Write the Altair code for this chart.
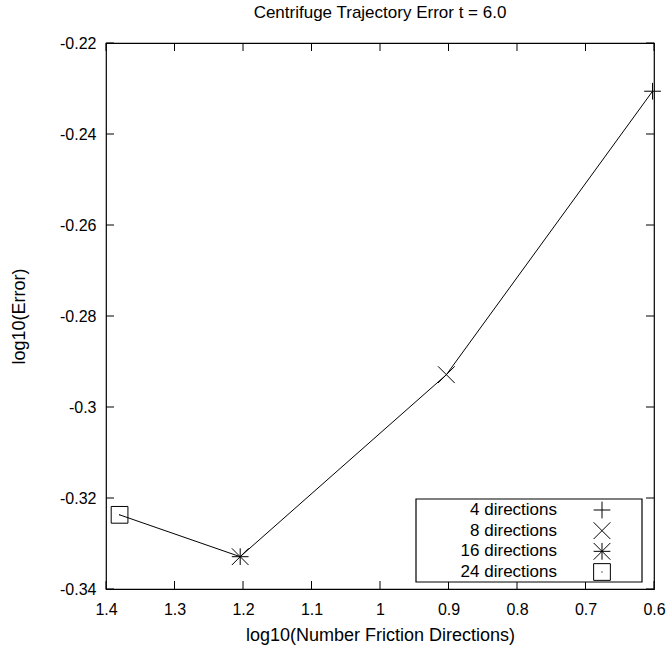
import altair as alt
import pandas as pd

# ---- data ----
directions = [4, 8, 16, 24]
log_dirs = [0.6021, 0.9031, 1.2041, 1.3802]
log_err = [-0.2306, -0.2929, -0.3329, -0.3237]
labels = ["4 directions", "8 directions", "16 directions", "24 directions"]
x_ticks = [1.4, 1.3, 1.2, 1.1, 1.0, 0.9, 0.8, 0.7, 0.6]
y_ticks = [-0.34, -0.32, -0.30, -0.28, -0.26, -0.24, -0.22]

# gnuplot-like point shapes (unit paths)
PLUS = "M-1,0H1M0,-1V1"
CROSS = "M-1,-1L1,1M-1,1L1,-1"
STAR = "M-1,0H1M0,-1V1M-1,-1L1,1M-1,1L1,-1"
SQUARE = "M-1,-1H1V1H-1ZM-0.07,0H0.07"
shapes = [PLUS, CROSS, STAR, SQUARE]

FONT = "Liberation Sans"
W, H = 548, 546
TICK = 8

df = pd.DataFrame({"directions": directions, "logdir": log_dirs,
                   "logerr": log_err, "label": labels})
xt = pd.DataFrame({"logdir": x_ticks})
yt = pd.DataFrame({"logerr": y_ticks})

xscale = alt.Scale(domain=[0.6, 1.4], reverse=True, zero=False, nice=False)
yscale = alt.Scale(domain=[-0.34, -0.22], zero=False, nice=False)

xaxis = alt.Axis(values=x_ticks, labelExpr="'' + datum.value", ticks=False, tickSize=0,
                 domain=False, grid=False, labelFont=FONT, labelFontSize=16,
                 labelColor="black", labelPadding=12, labelFlush=False, labelOverlap=False,
                 title="log10(Number Friction Directions)", titleFont=FONT,
                 titleFontSize=18, titleFontWeight="normal", titleColor="black",
                 titlePadding=9)
yaxis = alt.Axis(values=y_ticks, labelExpr="'' + datum.value", ticks=False, tickSize=0,
                 domain=False, grid=False, labelFont=FONT, labelFontSize=16,
                 labelColor="black", labelPadding=10, labelFlush=False, labelOverlap=False,
                 title="log10(Error)", titleFont=FONT, titleFontSize=18,
                 titleFontWeight="normal", titleColor="black", titlePadding=31)

X = alt.X("logdir:Q", scale=xscale, axis=xaxis)
Y = alt.Y("logerr:Q", scale=yscale, axis=yaxis)

shape_scale = alt.Scale(domain=labels, range=shapes)

# inward ticks on all four sides
xt_bottom = alt.Chart(xt).mark_rule(color="black", strokeWidth=1).encode(
    x=X, y=alt.value(H), y2=alt.value(H - TICK))
xt_top = alt.Chart(xt).mark_rule(color="black", strokeWidth=1).encode(
    x=X, y=alt.value(0), y2=alt.value(TICK))
yt_left = alt.Chart(yt).mark_rule(color="black", strokeWidth=1).encode(
    y=Y, x=alt.value(0), x2=alt.value(TICK))
yt_right = alt.Chart(yt).mark_rule(color="black", strokeWidth=1).encode(
    y=Y, x=alt.value(W), x2=alt.value(W - TICK))

line = alt.Chart(df).mark_line(color="black", strokeWidth=1).encode(
    x=X, y=Y, order="directions:Q")
points = alt.Chart(df).mark_point(filled=False, color="black", strokeWidth=1,
                                  size=280, opacity=1).encode(
    x=X, y=Y,
    shape=alt.Shape("label:N", scale=shape_scale, legend=None))

main = alt.layer(xt_bottom, xt_top, yt_left, yt_right, line, points)

# hand-drawn gnuplot-style key (text left, symbol right)
leg_y = alt.Y("label:N", axis=None,
              scale=alt.Scale(type="point", domain=labels, range=[467, 529], padding=0))
leg_box = alt.Chart(pd.DataFrame({"k": [0]})).mark_rect(
    fill="white", stroke="black", strokeWidth=1.2).encode(
    x=alt.value(310), x2=alt.value(536), y=alt.value(456), y2=alt.value(539))
leg_text = alt.Chart(df).mark_text(align="right", baseline="middle", font=FONT,
                                   fontSize=17, color="black").encode(
    x=alt.value(451), y=leg_y, text="label:N")
leg_sym = alt.Chart(df).mark_point(filled=False, color="black", strokeWidth=1,
                                   size=280, opacity=1).encode(
    x=alt.value(496), y=leg_y,
    shape=alt.Shape("label:N", scale=shape_scale, legend=None))
legend = alt.layer(leg_box, leg_text, leg_sym)

chart = alt.layer(main, legend).resolve_scale(y="independent").properties(
    width=W, height=H,
    padding={"left": 106, "top": 43, "right": 14, "bottom": 61},
    autosize=alt.AutoSizeParams(type="none"),
    title=alt.TitleParams("Centrifuge Trajectory Error t = 6.0", font=FONT,
                          fontSize=17, fontWeight="normal", color="black",
                          anchor="middle", offset=13),
    background="white",
).configure_view(stroke="black", strokeWidth=1.2)

chart.save("out.html", embed_options={"renderer": "svg", "actions": False})
